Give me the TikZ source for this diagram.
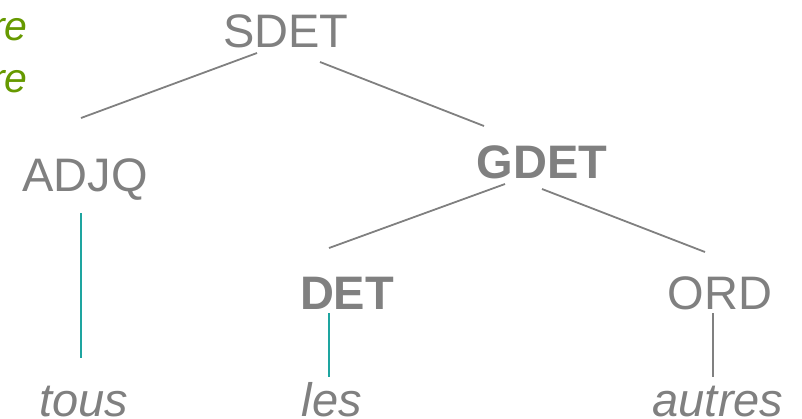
\documentclass[tikz,border=0pt]{standalone}
\usepackage{fontspec}
\setmainfont{Liberation Sans}
\definecolor{tgray}{RGB}{128,128,128}
\definecolor{tteal}{RGB}{30,165,160}
\definecolor{tgreen}{RGB}{102,153,0}
\begin{document}
\begin{tikzpicture}[x=1pt,y=-1pt,
  lbl/.style={inner sep=0pt,anchor=base,text=tgray,font=\fontsize{47}{50}\selectfont},
  blbl/.style={lbl,font=\fontsize{47}{50}\selectfont\bfseries},
  word/.style={lbl,font=\fontsize{47}{50}\selectfont\itshape},
  gre/.style={inner sep=0pt,anchor=base east,text=tgreen,font=\fontsize{41}{44}\selectfont\itshape},
  edge/.style={draw=tgray,line width=1.8pt},
  tedge/.style={draw=tteal,line width=1.8pt}]
\useasboundingbox (0,0) rectangle (802,418);
\node[gre] (g1) at (28,40) {re};
\node[gre] (g2) at (28,92) {re};
\node[lbl] (sdet) at (286,47) {SDET};
\node[lbl] (adjq) at (85,191) {ADJQ};
\node[blbl] (gdet) at (542,178) {GDET};
\node[blbl] (det) at (347,309) {DET};
\node[lbl] (ord) at (720,309) {ORD};
\node[word] (tous) at (84,416) {tous};
\node[word] (les) at (332,416) {les};
\node[word] (autres) at (718,416) {autres};
\coordinate (a1) at (257,53); \coordinate (a2) at (81,118);
\coordinate (b1) at (320,62); \coordinate (b2) at (484,126);
\coordinate (c1) at (505,184); \coordinate (c2) at (329,248);
\coordinate (d1) at (542,189); \coordinate (d2) at (705,252);
\coordinate (e1) at (81,213); \coordinate (e2) at (81,358);
\coordinate (f1) at (329,313); \coordinate (f2) at (329,377);
\coordinate (h1) at (713,313); \coordinate (h2) at (713,377);
\draw[edge] (a1) -- (a2);
\draw[edge] (b1) -- (b2);
\draw[edge] (c1) -- (c2);
\draw[edge] (d1) -- (d2);
\draw[tedge] (e1) -- (e2);
\draw[tedge] (f1) -- (f2);
\draw[edge] (h1) -- (h2);
\end{tikzpicture}
\end{document}
